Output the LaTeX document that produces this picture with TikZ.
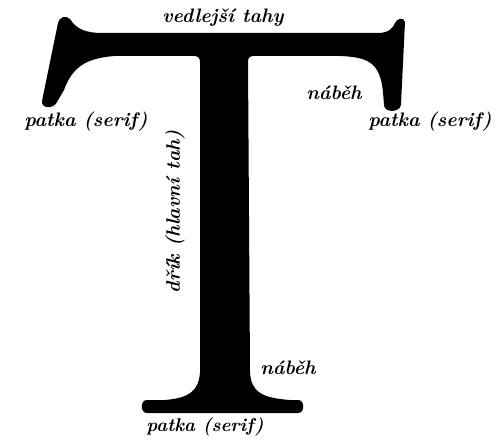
\documentclass[tikz,border=0pt]{standalone}
\usepackage{fontspec}
\tikzset{
  lbl/.style={font=\fontsize{19.5}{23}\selectfont\bfseries\itshape\addfontfeature{FakeBold=0.6}, inner sep=0pt, text=black},
  glyph/.style={fill=black, draw=none}
}
\begin{document}
\begin{tikzpicture}[x=1pt,y=-1pt]
\useasboundingbox (0,0) rectangle (502,446);
\fill[white] (0,0) rectangle (502,446);
% the letter T
\path[glyph]
  (58,23) .. controls (59,17) and (66,15) .. (70,19)
  .. controls (76,29) and (86,33) .. (102,33)
  -- (378,33)
  .. controls (389,33) and (393,28) .. (395,23)
  .. controls (397,18) and (404,17) .. (405,22)
  -- (401,104)
  .. controls (401,113) and (384,113) .. (384,105)
  -- (383,92)
  .. controls (380,64) and (370,57) .. (340,56)
  -- (254,56)
  .. controls (249,56) and (248,58) .. (248,62)
  -- (250,372)
  .. controls (251,392) and (262,398) .. (290,400)
  -- (298,400)
  .. controls (305,400) and (305,413) .. (298,413)
  -- (147,413)
  .. controls (140,413) and (140,400) .. (147,400)
  -- (165,400)
  .. controls (190,398) and (199,390) .. (200,372)
  -- (200,62)
  .. controls (200,58) and (198,56) .. (194,56)
  -- (115,56)
  .. controls (85,58) and (72,68) .. (64,90)
  -- (57,102)
  .. controls (54,109) and (41,109) .. (42,101)
  -- cycle;
% labels
\node[lbl] (vt) at (223,18) {vedlejší tahy};
\node[lbl] (pl) at (86,122) {patka (serif)};
\node[lbl] (nt) at (334,93) {náběh};
\node[lbl] (pr) at (430,122) {patka (serif)};
\node[lbl, rotate=90] (dr) at (175,212) {dřík (hlavní tah)};
\node[lbl] (nb) at (288,368) {náběh};
\node[lbl, font=\fontsize{18.5}{22}\selectfont\bfseries\itshape\addfontfeature{FakeBold=0.6}] (pb) at (205,427) {patka (serif)};
\end{tikzpicture}
\end{document}
